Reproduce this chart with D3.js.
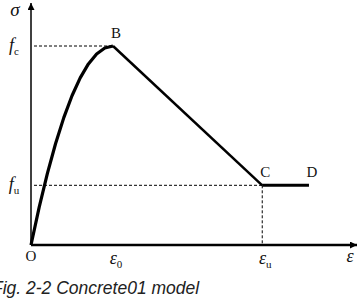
<!DOCTYPE html>
<html lang="en">
<head>
<meta charset="UTF-8">
<title>Concrete01 model</title>
<script src="https://d3js.org/d3.v7.min.js"></script>
<style>
    body { margin: 0; background: white; }
    .lbl { font-family: "Liberation Serif", "DejaVu Serif", serif; fill: #111; }
    .caption { font-family: "Liberation Sans", Arial, sans-serif; font-style: italic; font-size: 17.5px; fill: #222; }
</style>
</head>
<body>
<div id="chart"></div>
<script>
    // normalized strain (eps / eps0) and stress (sigma / fc)
    const riseStrain = [0, 0.1, 0.2, 0.3, 0.4, 0.5, 0.6, 0.7, 0.8, 0.9, 1.0];
    const riseStress = [0, 0.19, 0.36, 0.51, 0.64, 0.75, 0.84, 0.91, 0.96, 0.99, 1.0];
    const softStrain = [1.0, 2.82];
    const softStress = [1.0, 0.30];
    const flatStrain = [2.82, 3.39];
    const flatStress = [0.30, 0.30];
    const keyPoints = [
        { name: "B", e: 1.0, s: 1.0 },
        { name: "C", e: 2.82, s: 0.30 },
        { name: "D", e: 3.39, s: 0.30 }
    ];
    const eps0 = 1.0, epsu = 2.82, fc = 1.0, fu = 0.30;

    const W = 357, H = 298;
    const x0 = 31, y0 = 245;

    const svg = d3.select("#chart").append("svg")
        .attr("width", W).attr("height", H);

    const x = d3.scaleLinear().domain([0, 1]).range([x0, 113]);
    const y = d3.scaleLinear().domain([0, 1]).range([y0, 46]);

    svg.append("defs").append("marker")
        .attr("id", "arrow")
        .attr("viewBox", "0 0 10 10")
        .attr("refX", 10).attr("refY", 5)
        .attr("markerWidth", 10).attr("markerHeight", 7)
        .attr("markerUnits", "userSpaceOnUse")
        .attr("orient", "auto")
        .append("path")
        .attr("d", "M0,0 L10,5 L0,10 Z")
        .attr("fill", "black");

    // dashed guides
    const dash = svg.append("g")
        .attr("stroke", "black").attr("stroke-width", 1)
        .attr("stroke-dasharray", "3,2").attr("fill", "none");
    dash.append("line").attr("x1", x0 + 3).attr("x2", x(eps0)).attr("y1", y(fc)).attr("y2", y(fc));
    dash.append("line").attr("x1", x0 + 3).attr("x2", x(epsu)).attr("y1", y(fu)).attr("y2", y(fu));
    dash.append("line").attr("x1", x(epsu)).attr("x2", x(epsu)).attr("y1", y(fu)).attr("y2", y0);

    // axes
    svg.append("line")
        .attr("x1", x0).attr("y1", y0).attr("x2", x0).attr("y2", 3)
        .attr("stroke", "black").attr("stroke-width", 1.5)
        .attr("marker-end", "url(#arrow)");
    svg.append("line")
        .attr("x1", x0).attr("y1", y0).attr("x2", 357).attr("y2", y0)
        .attr("stroke", "black").attr("stroke-width", 2.5)
        .attr("marker-end", "url(#arrow)");

    const line = d3.line().x(d => x(d[0])).y(d => y(d[1]));

    svg.append("path")
        .datum(d3.zip(riseStrain, riseStress))
        .attr("d", line)
        .attr("fill", "none").attr("stroke", "black")
        .attr("stroke-width", 3.2).attr("stroke-linejoin", "round");
    svg.append("path")
        .datum(d3.zip(softStrain, softStress))
        .attr("d", line)
        .attr("fill", "none").attr("stroke", "black").attr("stroke-width", 2.5);
    svg.append("path")
        .datum(d3.zip(flatStrain, flatStress))
        .attr("d", line)
        .attr("fill", "none").attr("stroke", "black").attr("stroke-width", 3);

    // point labels
    svg.selectAll(".pt")
        .data(keyPoints)
        .enter().append("text")
        .attr("class", "lbl")
        .attr("x", d => x(d.e) + 3)
        .attr("y", d => y(d.s) - 8)
        .attr("text-anchor", "middle")
        .attr("font-size", 15)
        .text(d => d.name);

    // axis symbols
    const sym = (px, py, main, sub, size) => {
        const t = svg.append("text").attr("class", "lbl")
            .attr("x", px).attr("y", py)
            .attr("font-size", size).attr("font-style", "italic")
            .attr("text-anchor", "middle");
        t.append("tspan").text(main);
        if (sub) t.append("tspan").attr("font-size", 11).attr("font-style", "normal")
            .attr("dy", 4).text(sub);
    };
    svg.append("text").attr("class", "lbl")
        .attr("x", 15).attr("y", 16)
        .attr("font-size", 19).attr("font-style", "italic")
        .attr("text-anchor", "middle").text("σ");
    sym(14, y(fc) + 5, "f", "c", 18);
    sym(14, y(fu) + 5, "f", "u", 18);
    svg.append("text").attr("class", "lbl")
        .attr("x", x0).attr("y", 261)
        .attr("font-size", 15).attr("text-anchor", "middle").text("O");
    sym(x(eps0) + 3, 264, "ε", "0", 18);
    sym(x(epsu) + 3, 264, "ε", "u", 18);
    sym(350, 262, "ε", null, 18);

    svg.append("text").attr("class", "caption")
        .attr("x", -8).attr("y", 294)
        .text("Fig. 2-2 Concrete01 model");
</script>
</body>
</html>
